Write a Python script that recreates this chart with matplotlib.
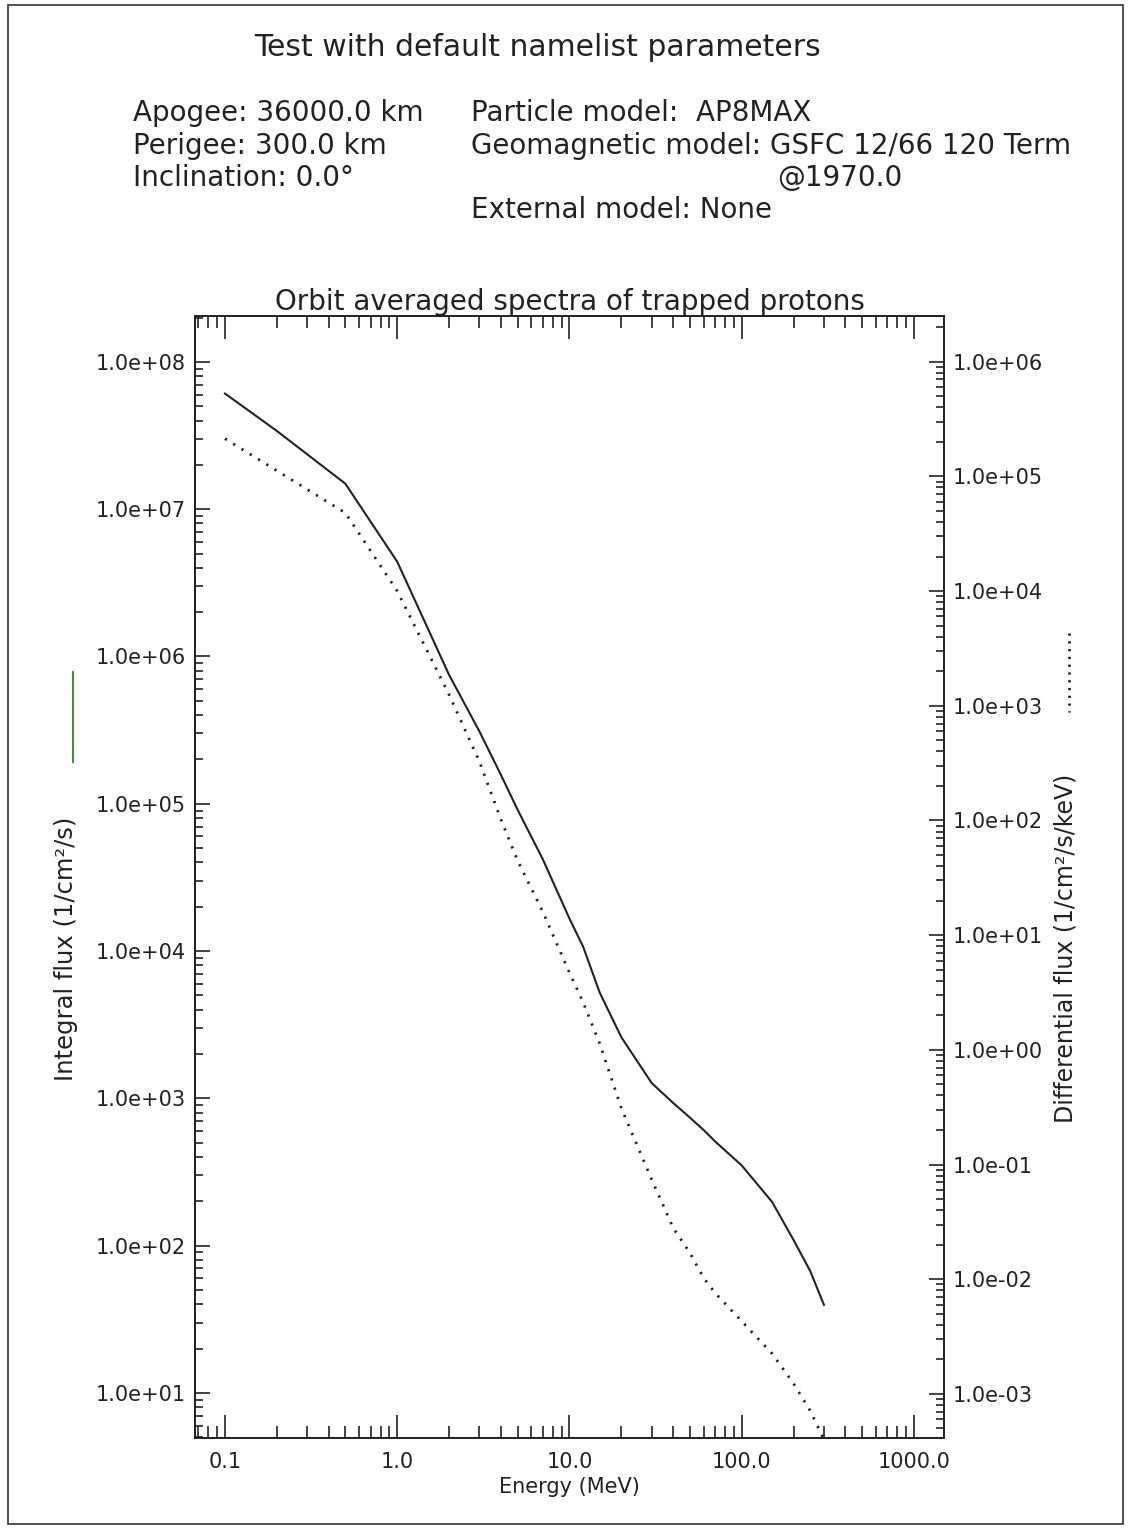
import matplotlib
matplotlib.use("Agg")
import matplotlib.pyplot as plt
import numpy as np
from matplotlib.lines import Line2D
from matplotlib.patches import Rectangle
from matplotlib.ticker import FixedLocator, FixedFormatter, LogLocator, NullFormatter, FuncFormatter

# orbit-averaged AP8MAX proton spectra
energy = [0.1, 0.2, 0.5, 1.0, 2.0, 3.0, 4.0, 5.0, 7.0, 10.0, 12.0, 15.0, 20.0,
          30.0, 40.0, 50.0, 60.0, 70.0, 100.0, 150.0, 200.0, 250.0, 300.0]
integral_flux = [6.1e7, 3.4e7, 1.49e7, 4.4e6, 7.5e5, 3.1e5, 1.57e5, 9.1e4, 4.2e4,
                 1.66e4, 1.07e4, 5.2e3, 2.6e3, 1.27e3, 930.0, 740.0, 610.0, 510.0,
                 350.0, 198.0, 109.0, 67.0, 39.6]
diff_flux = [2.13e5, 1.12e5, 4.8e4, 1.0e4, 1250.0, 326.0, 102.0, 44.6, 16.0,
             4.7, 2.6, 1.13, 0.31, 0.074, 0.028, 0.017, 0.0103, 7.6e-3,
             4.3e-3, 2.25e-3, 1.23e-3, 7.1e-4, 4.0e-4]

xticks = [0.1, 1.0, 10.0, 100.0, 1000.0]
xticklabels = ["0.1", "1.0", "10.0", "100.0", "1000.0"]

W, H = 1129, 1530
ink = "#222222"
dots = (0, (0.8, 2.7))
plt.rcParams["font.family"] = ["DejaVu Sans"]


def fx(px):
    return px / W


def fy(py):
    return 1 - py / H


fig = plt.figure(figsize=(W / 100, H / 100), dpi=100)
fig.add_artist(Rectangle((0.007, 0.004), 0.988, 0.993, fill=False,
                         transform=fig.transFigure, lw=1.2, ec="#333333"))

# header block
fig.text(fx(538), fy(47), "Test with default namelist parameters",
         ha="center", va="center", fontsize=21.5, color=ink)
left_info = ["Apogee: 36000.0 km", "Perigee: 300.0 km", "Inclination: 0.0°"]
right_info = ["Particle model:  AP8MAX", "Geomagnetic model: GSFC 12/66 120 Term",
              None, "External model: None"]
for i, s in enumerate(left_info):
    fig.text(fx(133), fy(113 + 32.5 * i), s, ha="left", va="center",
             fontsize=20, color=ink)
for i, s in enumerate(right_info):
    if s:
        fig.text(fx(471), fy(113 + 32.5 * i), s, ha="left", va="center",
                 fontsize=20, color=ink)
fig.text(fx(777), fy(178), "@1970.0", ha="left", va="center", fontsize=20, color=ink)

ax = fig.add_axes([fx(195), fy(1438), (944 - 195) / W, (1438 - 316) / H])
ax2 = ax.twinx()

ax.plot(energy, integral_flux, color=ink, lw=1.5, solid_joinstyle="miter")
ax2.plot(energy, diff_flux, color=ink, lw=2.0, linestyle=dots)

ax.set_xscale("log")
ax.set_yscale("log")
ax2.set_yscale("log")
ax.set_xlim(0.067, 1493)
ax.set_ylim(4.94, 2.05e8)
ax2.set_ylim(4.13e-4, 2.5e6)

ax.xaxis.set_major_locator(FixedLocator(xticks))
ax.xaxis.set_major_formatter(FixedFormatter(xticklabels))
ax.xaxis.set_minor_locator(LogLocator(base=10, subs=np.arange(2, 10), numticks=20))
ax.xaxis.set_minor_formatter(NullFormatter())
for a in (ax, ax2):
    a.yaxis.set_major_locator(LogLocator(base=10, numticks=20))
    a.yaxis.set_minor_locator(LogLocator(base=10, subs=np.arange(2, 10), numticks=20))
    a.yaxis.set_major_formatter(FuncFormatter(lambda v, p: f"{v:.1e}"))
    a.yaxis.set_minor_formatter(NullFormatter())
    for sp in a.spines.values():
        sp.set_color(ink)
        sp.set_linewidth(1.3)

ax.tick_params(axis="x", which="major", direction="in", length=16.5, width=1.2,
               top=True, bottom=True, labelsize=15, pad=10, colors=ink)
ax.tick_params(axis="x", which="minor", direction="in", length=8.6, width=1.2,
               top=True, bottom=True, colors=ink)
ax.tick_params(axis="y", which="major", direction="in", length=10.8, width=1.2,
               left=True, right=False, labelsize=15, pad=6.5, colors=ink)
ax.tick_params(axis="y", which="minor", direction="in", length=5.8, width=1.2,
               left=True, right=False, colors=ink)
ax2.tick_params(axis="y", which="major", direction="in", length=10.8, width=1.2,
                right=True, left=False, labelsize=15, pad=6.5, colors=ink)
ax2.tick_params(axis="y", which="minor", direction="in", length=5.8, width=1.2,
                right=True, left=False, colors=ink)

ax.set_title("Orbit averaged spectra of trapped protons", fontsize=20,
             color=ink, pad=1)
ax.set_xlabel("Energy (MeV)", fontsize=15, color=ink, labelpad=4)

# axis titles with line-style samples
fig.text(fx(66), fy(949), "Integral flux (1/cm²/s)", rotation=90,
         ha="center", va="center", fontsize=17.5, color=ink)
fig.add_artist(Line2D([fx(73), fx(73)], [fy(672), fy(762)], color="#2e7d32",
                      lw=1.3, transform=fig.transFigure))
fig.text(fx(1065), fy(948), "Differential flux (1/cm²/s/keV)", rotation=90,
         ha="center", va="center", fontsize=17, color=ink)
fig.add_artist(Line2D([fx(1069), fx(1069)], [fy(633), fy(712)], color=ink,
                      lw=2.0, linestyle=(0, (0.8, 2.0)), transform=fig.transFigure))

fig.savefig("out.png", dpi=100)
